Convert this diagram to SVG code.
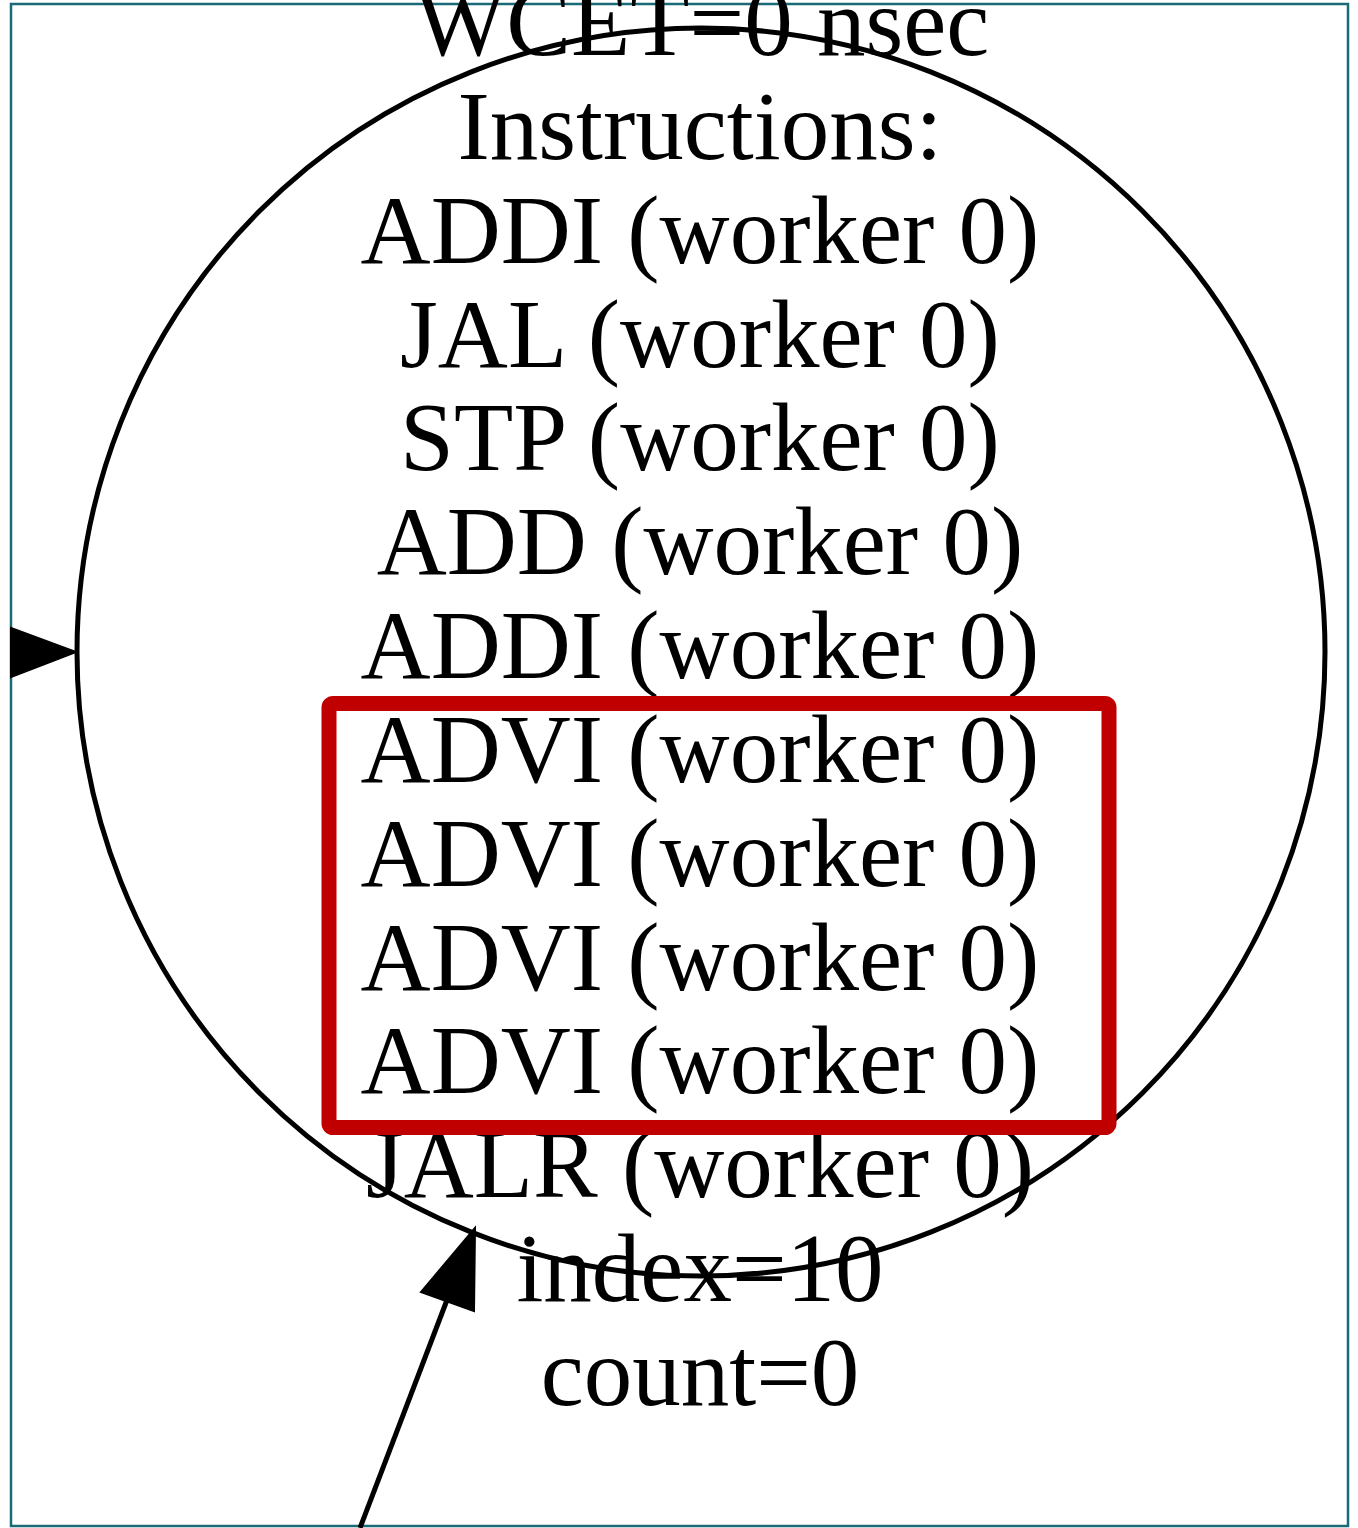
<svg xmlns="http://www.w3.org/2000/svg" width="1358" height="1528" viewBox="0 0 1358 1528">
  <style>
    .lbl { font-family: "Liberation Serif", "Times New Roman", serif; font-size: 97px; fill: #000; text-anchor: middle; }
    .edge { stroke: #000; stroke-width: 5; fill: none; }
    .head { fill: #000; stroke: #000; stroke-width: 2; }
  </style>
  <rect x="0" y="0" width="1358" height="1528" fill="#fff"/>
  <rect x="11" y="4" width="1337" height="1522" fill="none" stroke="#1b6a78" stroke-width="2.5"/>

  <g id="connectors">
    <g id="edge-in-left">
      <polygon class="head" points="11,628 76,652 11,677"/>
    </g>
    <g id="edge-in-bottom">
      <line class="edge" x1="360" y1="1528" x2="447" y2="1300"/>
      <polygon class="head" points="475,1228 421,1292 474,1311"/>
    </g>
  </g>

  <g id="node-block">
    <circle cx="701" cy="652" r="624" fill="none" stroke="#000" stroke-width="5"/>
    <text class="lbl" x="702" y="55">WCET=0 nsec</text>
    <text class="lbl" x="700" y="159">Instructions:</text>
    <text class="lbl" x="700" y="263">ADDI (worker 0)</text>
    <text class="lbl" x="700" y="367">JAL (worker 0)</text>
    <text class="lbl" x="700" y="470">STP (worker 0)</text>
    <text class="lbl" x="700" y="574">ADD (worker 0)</text>
    <text class="lbl" x="700" y="678">ADDI (worker 0)</text>
    <text class="lbl" x="700" y="782">ADVI (worker 0)</text>
    <text class="lbl" x="700" y="886">ADVI (worker 0)</text>
    <text class="lbl" x="700" y="990">ADVI (worker 0)</text>
    <text class="lbl" x="700" y="1093">ADVI (worker 0)</text>
    <text class="lbl" x="700" y="1197">JALR (worker 0)</text>
    <text class="lbl" x="700" y="1301">index=10</text>
    <text class="lbl" x="700" y="1405">count=0</text>
  </g>

  <g id="highlight">
    <rect x="329" y="703.5" width="780" height="424" rx="4" fill="none" stroke="#c00000" stroke-width="15"/>
  </g>
</svg>
